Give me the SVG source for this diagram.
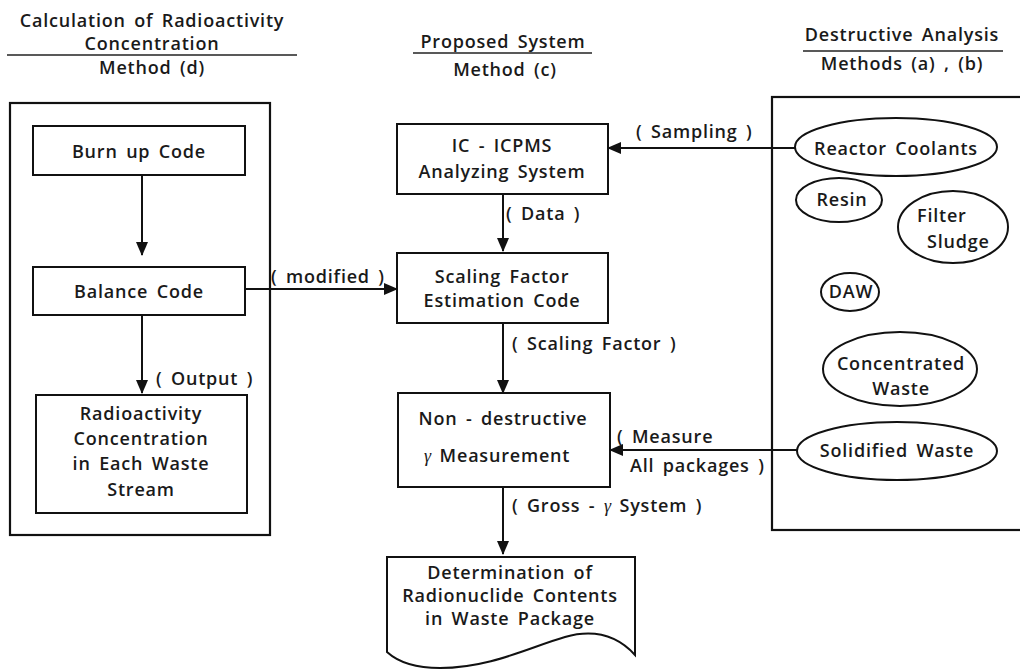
<svg xmlns="http://www.w3.org/2000/svg" width="1020" height="672" viewBox="0 0 1020 672">
  <defs>
    <marker id="arrow" markerUnits="userSpaceOnUse" markerWidth="14" markerHeight="12" refX="13" refY="6" orient="auto">
      <path d="M0,0 L14,6 L0,12 Z" fill="#111"/>
    </marker>
    <style>
      text { font-family: "Open Sans", "Noto Sans", "Liberation Sans", sans-serif; font-weight: 600; font-size: 18px; fill: #1a1a1a; letter-spacing: 0.8px; word-spacing: 3px; }
      .c { text-anchor: middle; }
      .g { font-family: "Liberation Serif", "DejaVu Serif", serif; font-style: italic; font-weight: 400; font-size: 18px; letter-spacing: 0; }
      .box { fill: none; stroke: #111; stroke-width: 2; }
      .frame { fill: none; stroke: #111; stroke-width: 2.2; }
      .rule { stroke: #222; stroke-width: 1.6; }
      .link { fill: none; stroke: #111; stroke-width: 2; }
    </style>
  </defs>
  <rect width="1020" height="672" fill="#ffffff"/>

  <!-- column headings -->
  <g id="head-d">
    <text class="c" x="152" y="27">Calculation of Radioactivity</text>
    <text class="c" x="152" y="50">Concentration</text>
    <line class="rule" x1="7" y1="55" x2="297" y2="55"/>
    <text class="c" x="152" y="74">Method (d)</text>
  </g>
  <g id="head-c">
    <text class="c" x="503" y="48">Proposed System</text>
    <line class="rule" x1="413" y1="53" x2="592" y2="53"/>
    <text class="c" x="505" y="76">Method   (c)</text>
  </g>
  <g id="head-ab">
    <text class="c" x="902" y="41">Destructive Analysis</text>
    <line class="rule" x1="803" y1="51" x2="1003" y2="51"/>
    <text class="c" x="902" y="70">Methods (a) , (b)</text>
  </g>

  <!-- method (d) frame -->
  <g id="frame-d">
    <rect class="frame" x="10" y="103" width="260" height="432"/>
  </g>
  <g id="burnup">
    <rect class="box" x="33" y="126" width="212" height="49"/>
    <text class="c" x="139" y="158">Burn up Code</text>
  </g>
  <g id="balance">
    <rect class="box" x="33" y="267" width="212" height="48"/>
    <text class="c" x="139" y="298">Balance Code</text>
  </g>
  <g id="concentration">
    <rect class="box" x="36" y="395" width="211" height="118"/>
    <text class="c" x="141" y="420">Radioactivity</text>
    <text class="c" x="141" y="445">Concentration</text>
    <text class="c" x="141" y="470">in Each Waste</text>
    <text class="c" x="141" y="496">Stream</text>
  </g>

  <!-- proposed system (c) -->
  <g id="icpms">
    <rect class="box" x="397" y="124" width="211" height="70"/>
    <text class="c" x="502" y="152">IC - ICPMS</text>
    <text class="c" x="502" y="178">Analyzing System</text>
  </g>
  <g id="sf-code">
    <rect class="box" x="397" y="253" width="211" height="70"/>
    <text class="c" x="502" y="283">Scaling Factor</text>
    <text class="c" x="502" y="307">Estimation Code</text>
  </g>
  <g id="gamma">
    <rect class="box" x="398" y="393" width="212" height="94"/>
    <text class="c" x="503" y="425">Non - destructive</text>
    <text x="424" y="462"><tspan class="g">γ</tspan>  Measurement</text>
  </g>
  <g id="result">
    <path class="box" d="M387,557 H635 V655 C615,633 590,630 565,637 C530,647 490,668 440,668 C415,668 398,662 387,652 Z"/>
    <text class="c" x="510" y="579">Determination of</text>
    <text class="c" x="510" y="602">Radionuclide Contents</text>
    <text class="c" x="510" y="625">in Waste Package</text>
  </g>

  <!-- destructive analysis (a),(b) -->
  <g id="frame-ab">
    <rect class="frame" x="772" y="97" width="260" height="433"/>
  </g>
  <g id="coolant">
    <ellipse class="box" cx="896" cy="147" rx="101" ry="29"/>
    <text class="c" x="896" y="155">Reactor Coolants</text>
  </g>
  <g id="resin">
    <ellipse class="box" cx="839" cy="200" rx="43" ry="22"/>
    <text class="c" x="842" y="206">Resin</text>
  </g>
  <g id="sludge">
    <ellipse class="box" cx="953" cy="227" rx="55" ry="36"/>
    <text x="917" y="222">Filter</text>
    <text x="927" y="248">Sludge</text>
  </g>
  <g id="daw">
    <ellipse class="box" cx="850" cy="292" rx="29" ry="19"/>
    <text class="c" x="851" y="298">DAW</text>
  </g>
  <g id="conc-waste">
    <ellipse class="box" cx="900" cy="369" rx="77" ry="37"/>
    <text class="c" x="901" y="370">Concentrated</text>
    <text class="c" x="901" y="395">Waste</text>
  </g>
  <g id="solid-waste">
    <ellipse class="box" cx="897" cy="451" rx="100" ry="29"/>
    <text class="c" x="897" y="457">Solidified Waste</text>
  </g>

  <!-- connectors -->
  <g id="connectors">
    <line class="link" x1="142" y1="175" x2="142" y2="255" marker-end="url(#arrow)"/>
    <line class="link" x1="142" y1="315" x2="142" y2="393" marker-end="url(#arrow)"/>
    <line class="link" x1="245" y1="289" x2="397" y2="289" marker-end="url(#arrow)"/>
    <line class="link" x1="503" y1="194" x2="503" y2="251" marker-end="url(#arrow)"/>
    <line class="link" x1="503" y1="323" x2="503" y2="393" marker-end="url(#arrow)"/>
    <line class="link" x1="503" y1="487" x2="503" y2="554" marker-end="url(#arrow)"/>
    <line class="link" x1="795" y1="148" x2="608" y2="148" marker-end="url(#arrow)"/>
    <line class="link" x1="797" y1="450" x2="610" y2="450" marker-end="url(#arrow)"/>
  </g>

  <!-- connector labels -->
  <g id="labels">
    <text x="156" y="385">( Output )</text>
    <text x="271" y="283">( modified )</text>
    <text x="506" y="220">( Data )</text>
    <text x="512" y="350">( Scaling Factor )</text>
    <text x="512" y="512">( Gross - <tspan class="g">γ</tspan> System )</text>
    <text x="636" y="138">( Sampling )</text>
    <text x="617" y="443">( Measure</text>
    <text x="630" y="472">All packages )</text>
  </g>
</svg>
